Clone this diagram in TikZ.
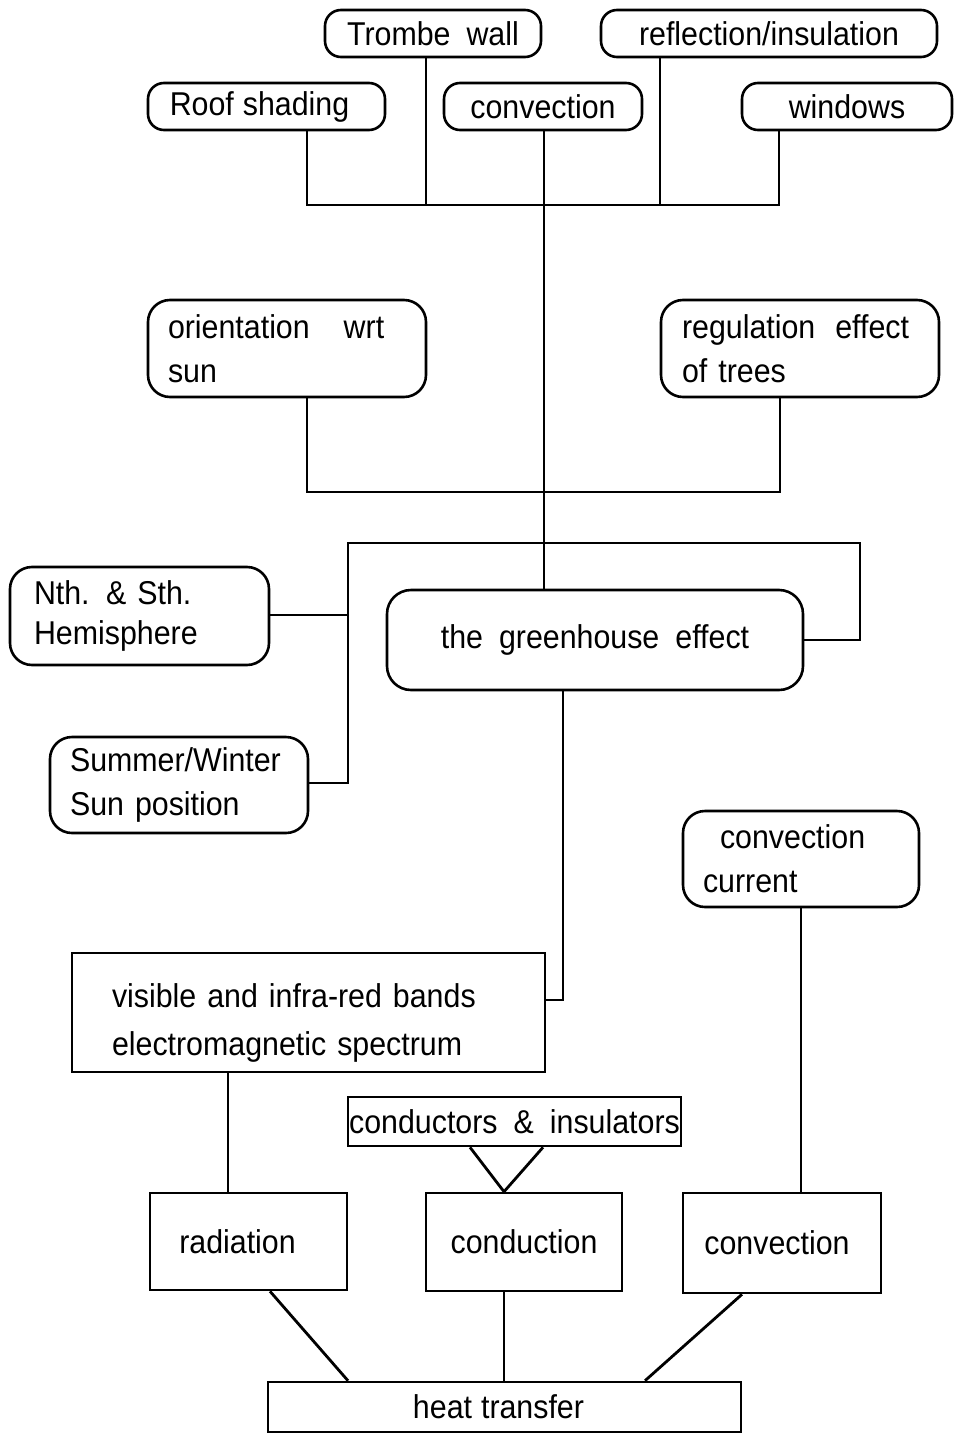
\documentclass[tikz,border=0pt]{standalone}
\usepackage{fontspec}
\setmainfont{Liberation Sans}[WordSpace=1.9, FakeStretch=0.92]
\begin{document}
\begin{tikzpicture}[x=1pt,y=-1pt,
  base/.style={draw, line width=2.6pt, inner sep=0pt, font={\fontsize{33}{44}\selectfont}},
  rbox/.style={base, rounded corners=16pt},
  sbox/.style={base, rounded corners=0pt},
  conn/.style={line width=2pt},
  diag/.style={line width=2.8pt}]
\fill[white] (0,0) rectangle (953,1434);
\useasboundingbox (0,0) rectangle (953,1434);

% top row
\node[rbox, minimum width=216pt, minimum height=47pt] (trombe) at (433,33.5) {Trombe wall};
\node[rbox, minimum width=336pt, minimum height=47pt] (refl) at (769,33.5) {reflection/insulation};
\node[rbox, minimum width=237pt, minimum height=47pt] (roof) at (266.5,106.5) {Roof\hspace{9pt}shading\hspace*{14pt}};
\node[rbox, minimum width=198pt, minimum height=47pt] (conv1) at (543,106.5) {convection};
\node[rbox, minimum width=210pt, minimum height=47pt] (windows) at (847,106.5) {windows};

% second row
\node[rbox, rounded corners=22pt, minimum height=97pt, inner xsep=20pt, text width=238pt, align=left] (orient) at (287,348.5) {orientation\hspace{34pt}wrt\\sun};
\node[rbox, rounded corners=22pt, minimum height=97pt, inner xsep=21pt, text width=236pt, align=left] (reg) at (800,348.5) {\mbox{regulation\hspace{20pt}effect}\\of trees};

% middle
\node[rbox, rounded corners=22pt, minimum height=98pt, inner xsep=24pt, text width=211pt, align=left, font={\fontsize{33}{40}\selectfont}] (nth) at (139.5,616) {Nth. \& Sth.\\Hemisphere};
\node[rbox, rounded corners=24pt, minimum width=416pt, minimum height=100pt] (green) at (595,640) {the greenhouse effect};
\node[rbox, rounded corners=22pt, minimum height=96pt, inner xsep=20pt, text width=218pt, align=left] (sumwin) at (179,785) {Summer/Winter\\Sun position};
\node[rbox, rounded corners=22pt, minimum height=96pt, inner xsep=20pt, text width=196pt, align=left] (cc) at (801,859) {\hspace*{17pt}convection\\current};

% lower
\node[sbox, minimum height=119pt, inner xsep=40pt, text width=393pt, align=left, font={\fontsize{33}{48}\selectfont}] (vis) at (308.5,1012.5) {\mbox{}\\[-4pt]visible and infra-red bands\\electromagnetic spectrum};
\node[sbox, minimum width=333pt, minimum height=49pt] (cni) at (514.5,1121.5) {conductors \& insulators};
\node[sbox, minimum width=197pt, minimum height=97pt] (rad) at (248.5,1241.5) {radiation\hspace*{22pt}};
\node[sbox, minimum width=196pt, minimum height=98pt] (cond) at (524,1242) {conduction};
\node[sbox, minimum width=198pt, minimum height=100pt] (conv2) at (782,1243) {convection\hspace*{10pt}};
\node[sbox, minimum width=473pt, minimum height=50pt] (heat) at (504.5,1407) {heat\hspace{9pt}transfer\hspace*{12pt}};

% bus 1
\coordinate (b1a) at (307,205);
\coordinate (b1b) at (426,205);
\coordinate (b1c) at (544,205);
\coordinate (b1d) at (660,205);
\coordinate (b1e) at (779,205);
\draw[conn] (roof.south -| b1a) -- (b1a) -- (b1e) -- (windows.south -| b1e);
\draw[conn] (trombe.south -| b1b) -- (b1b);
\draw[conn] (refl.south -| b1d) -- (b1d);
\draw[conn] (conv1.south -| b1c) -- (green.north -| b1c);

% bus 2
\coordinate (b2a) at (307,492);
\coordinate (b2b) at (780,492);
\draw[conn] (orient.south -| b2a) -- (b2a) -- (b2b) -- (reg.south -| b2b);

% bus 3
\coordinate (b3a) at (348,543);
\coordinate (b3b) at (860,543);
\coordinate (b3c) at (348,783);
\coordinate (b3n) at (348,615);
\coordinate (b3g) at (860,640);
\draw[conn] (sumwin.east |- b3c) -- (b3c) -- (b3a) -- (b3b) -- (b3g) -- (green.east |- b3g);
\draw[conn] (nth.east |- b3n) -- (b3n);

% greenhouse to visible
\coordinate (gv) at (563,1000);
\draw[conn] (green.south -| gv) -- (gv) -- (vis.east |- gv);

% convection current to convection
\draw[conn] (cc.south) -- (conv2.north -| cc.south);

% visible to radiation
\coordinate (vr) at (228,1100);
\draw[conn] (vis.south -| vr) -- (rad.north -| vr);

% conductors to conduction
\draw[diag] ([xshift=-44.5pt]cni.south) -- ([xshift=-20pt]cond.north) -- ([xshift=28.5pt]cni.south);

% to heat transfer
\draw[diag] ([xshift=21.5pt]rad.south) -- ([xshift=-156.5pt]heat.north);
\draw[conn] ([xshift=-20pt]cond.south) -- ([xshift=-0.5pt]heat.north);
\draw[diag] ([xshift=-40pt]conv2.south) -- ([xshift=140.5pt]heat.north);
\end{tikzpicture}
\end{document}
